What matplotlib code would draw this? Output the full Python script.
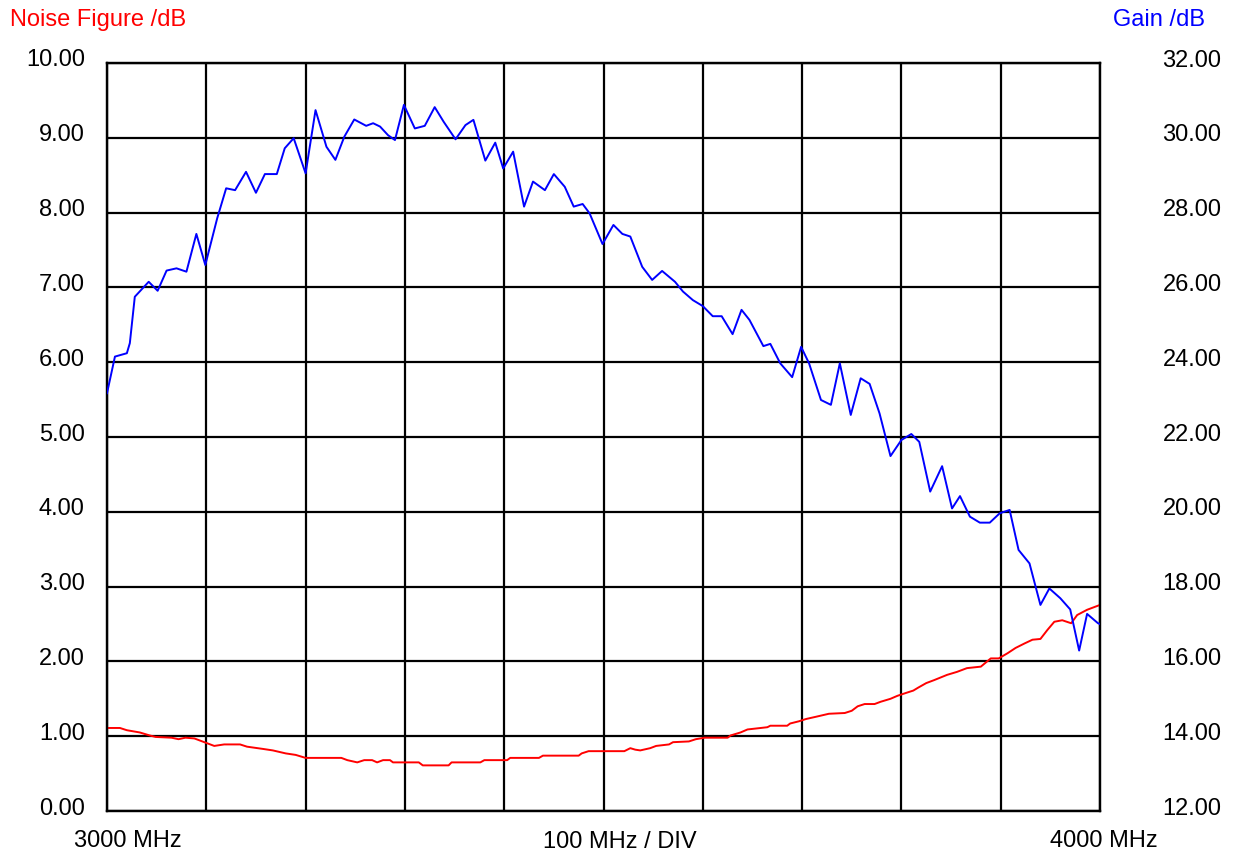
import matplotlib
matplotlib.use("Agg")
import matplotlib.pyplot as plt
from matplotlib.transforms import ScaledTranslation
import numpy as np

plt.rcParams["font.family"] = ["Liberation Sans", "DejaVu Sans"]

# gain trace (MHz, dB)
gain_freq = [3000, 3008, 3020, 3023, 3028, 3042, 3051, 3060, 3070, 3080,
             3090, 3099, 3111, 3120, 3129, 3140, 3150, 3159, 3171, 3179,
             3188, 3200, 3210, 3221, 3230, 3239, 3249, 3261, 3268, 3275,
             3283, 3290, 3299, 3310, 3320, 3330, 3339, 3351, 3361, 3369,
             3381, 3391, 3399, 3409, 3420, 3429, 3441, 3450, 3461, 3470,
             3479, 3486, 3499, 3510, 3519, 3527, 3539, 3549, 3559, 3572,
             3580, 3590, 3600, 3610, 3619, 3630, 3639, 3647, 3661, 3668,
             3678, 3690, 3699, 3707, 3719, 3729, 3738, 3749, 3759, 3768,
             3778, 3789, 3800, 3810, 3818, 3829, 3841, 3851, 3859, 3869,
             3879, 3889, 3899, 3909, 3918, 3929, 3940, 3949, 3960, 3970,
             3979, 3987, 3998, 4000]
gain_db = [23.17, 24.15, 24.24, 24.51, 25.75, 26.15, 25.91, 26.45, 26.51, 26.42,
           27.43, 26.60, 27.85, 28.65, 28.60, 29.09, 28.53, 29.03, 29.03, 29.72,
           29.99, 29.05, 30.74, 29.76, 29.41, 30.03, 30.49, 30.32, 30.39, 30.30,
           30.07, 29.94, 30.88, 30.25, 30.32, 30.82, 30.43, 29.96, 30.34, 30.48,
           29.39, 29.87, 29.18, 29.63, 28.16, 28.83, 28.60, 29.03, 28.69, 28.16,
           28.23, 27.98, 27.16, 27.67, 27.43, 27.36, 26.55, 26.20, 26.44, 26.15,
           25.89, 25.66, 25.50, 25.23, 25.23, 24.75, 25.40, 25.13, 24.43, 24.49,
           23.97, 23.60, 24.41, 23.97, 22.99, 22.86, 23.97, 22.59, 23.57, 23.42,
           22.63, 21.49, 21.92, 22.08, 21.87, 20.54, 21.22, 20.09, 20.42, 19.87,
           19.71, 19.71, 19.96, 20.05, 18.98, 18.62, 17.51, 17.95, 17.69, 17.39,
           16.29, 17.27, 17.02, 17.00]

# noise figure trace (MHz, dB)
nf_freq = [3000, 3013, 3020, 3033, 3043, 3049, 3065, 3072, 3079, 3088,
           3098, 3108, 3118, 3134, 3141, 3157, 3167, 3180, 3190, 3200,
           3236, 3242, 3252, 3259, 3267, 3272, 3278, 3285, 3288, 3314,
           3318, 3344, 3347, 3376, 3380, 3403, 3406, 3435, 3439, 3475,
           3478, 3485, 3521, 3527, 3532, 3537, 3547, 3553, 3566, 3570,
           3586, 3593, 3602, 3625, 3628, 3638, 3645, 3665, 3668, 3685,
           3688, 3697, 3704, 3714, 3727, 3743, 3750, 3756, 3763, 3773,
           3779, 3789, 3796, 3805, 3812, 3817, 3825, 3833, 3846, 3856,
           3866, 3880, 3890, 3898, 3907, 3915, 3924, 3932, 3940, 3947,
           3954, 3962, 3971, 3977, 3987, 3999]
nf_db = [1.11, 1.11, 1.08, 1.05, 1.01, 0.99, 0.98, 0.96, 0.98, 0.97,
         0.92, 0.87, 0.89, 0.89, 0.86, 0.83, 0.81, 0.77, 0.75, 0.71,
         0.71, 0.68, 0.65, 0.68, 0.68, 0.65, 0.68, 0.68, 0.65, 0.65,
         0.61, 0.61, 0.65, 0.65, 0.68, 0.68, 0.71, 0.71, 0.74, 0.74,
         0.77, 0.80, 0.80, 0.84, 0.82, 0.81, 0.84, 0.87, 0.89, 0.92,
         0.93, 0.96, 0.98, 0.98, 1.01, 1.05, 1.09, 1.12, 1.14, 1.14,
         1.17, 1.20, 1.23, 1.26, 1.30, 1.31, 1.34, 1.40, 1.43, 1.43,
         1.46, 1.50, 1.54, 1.58, 1.61, 1.65, 1.71, 1.75, 1.82, 1.86,
         1.91, 1.93, 2.04, 2.04, 2.11, 2.18, 2.24, 2.29, 2.30, 2.42,
         2.53, 2.55, 2.51, 2.62, 2.69, 2.75]

nf_ticks = np.arange(0, 11, 1)
gain_ticks = np.arange(12, 33, 2)
freq_ticks = np.arange(3000, 4001, 100)

W, H = 1233, 855
FS = 17
fig = plt.figure(figsize=(W / 100, H / 100), dpi=100)
ax = fig.add_axes([107 / W, 1 - 811 / H, (1100 - 107) / W, (811 - 63) / H])
ax2 = ax.twinx()

ax.plot(nf_freq, nf_db, color="#ff0000", linewidth=1.4, zorder=3)
ax2.plot(gain_freq, gain_db, color="#0000ff", linewidth=1.4, zorder=3)

ax.set_xlim(3000, 4000)
ax.set_ylim(0, 10)
ax2.set_ylim(12, 32)
ax.set_xticks(freq_ticks)
ax.set_xticklabels([])
ax.set_yticks(nf_ticks)
ax.set_yticklabels([f"{v:.2f}" for v in nf_ticks])
ax2.set_yticks(gain_ticks)
ax2.set_yticklabels([f"{v:.2f}" for v in gain_ticks])

ax.grid(True, color="black", linewidth=1.6)
ax.set_axisbelow(True)
ax.tick_params(axis="both", length=0, labelsize=FS, colors="black")
ax.tick_params(axis="y", pad=16)
ax2.tick_params(axis="y", length=0, labelsize=FS, pad=45, colors="black")
for a in (ax, ax2):
    for s in a.spines.values():
        s.set_linewidth(1.6)
        s.set_color("black")

# labels sit a few pixels above their grid line
shift = ScaledTranslation(0, 5 / 100, fig.dpi_scale_trans)
for lab in ax.get_yticklabels() + ax2.get_yticklabels():
    lab.set_transform(lab.get_transform() + shift)

fig.text(10 / W, 1 - 20 / H, "Noise Figure /dB", color="#ff0000", fontsize=FS,
         ha="left", va="center")
fig.text(1205 / W, 1 - 20 / H, "Gain /dB", color="#0000ff", fontsize=FS,
         ha="right", va="center")
fig.text(128 / W, 1 - 841 / H, "3000 MHz", fontsize=FS, ha="center", va="center")
fig.text(620 / W, 1 - 842 / H, "100 MHz / DIV", fontsize=FS, ha="center", va="center")
fig.text(1104 / W, 1 - 841 / H, "4000 MHz", fontsize=FS, ha="center", va="center")

fig.savefig("out.png", dpi=100)
